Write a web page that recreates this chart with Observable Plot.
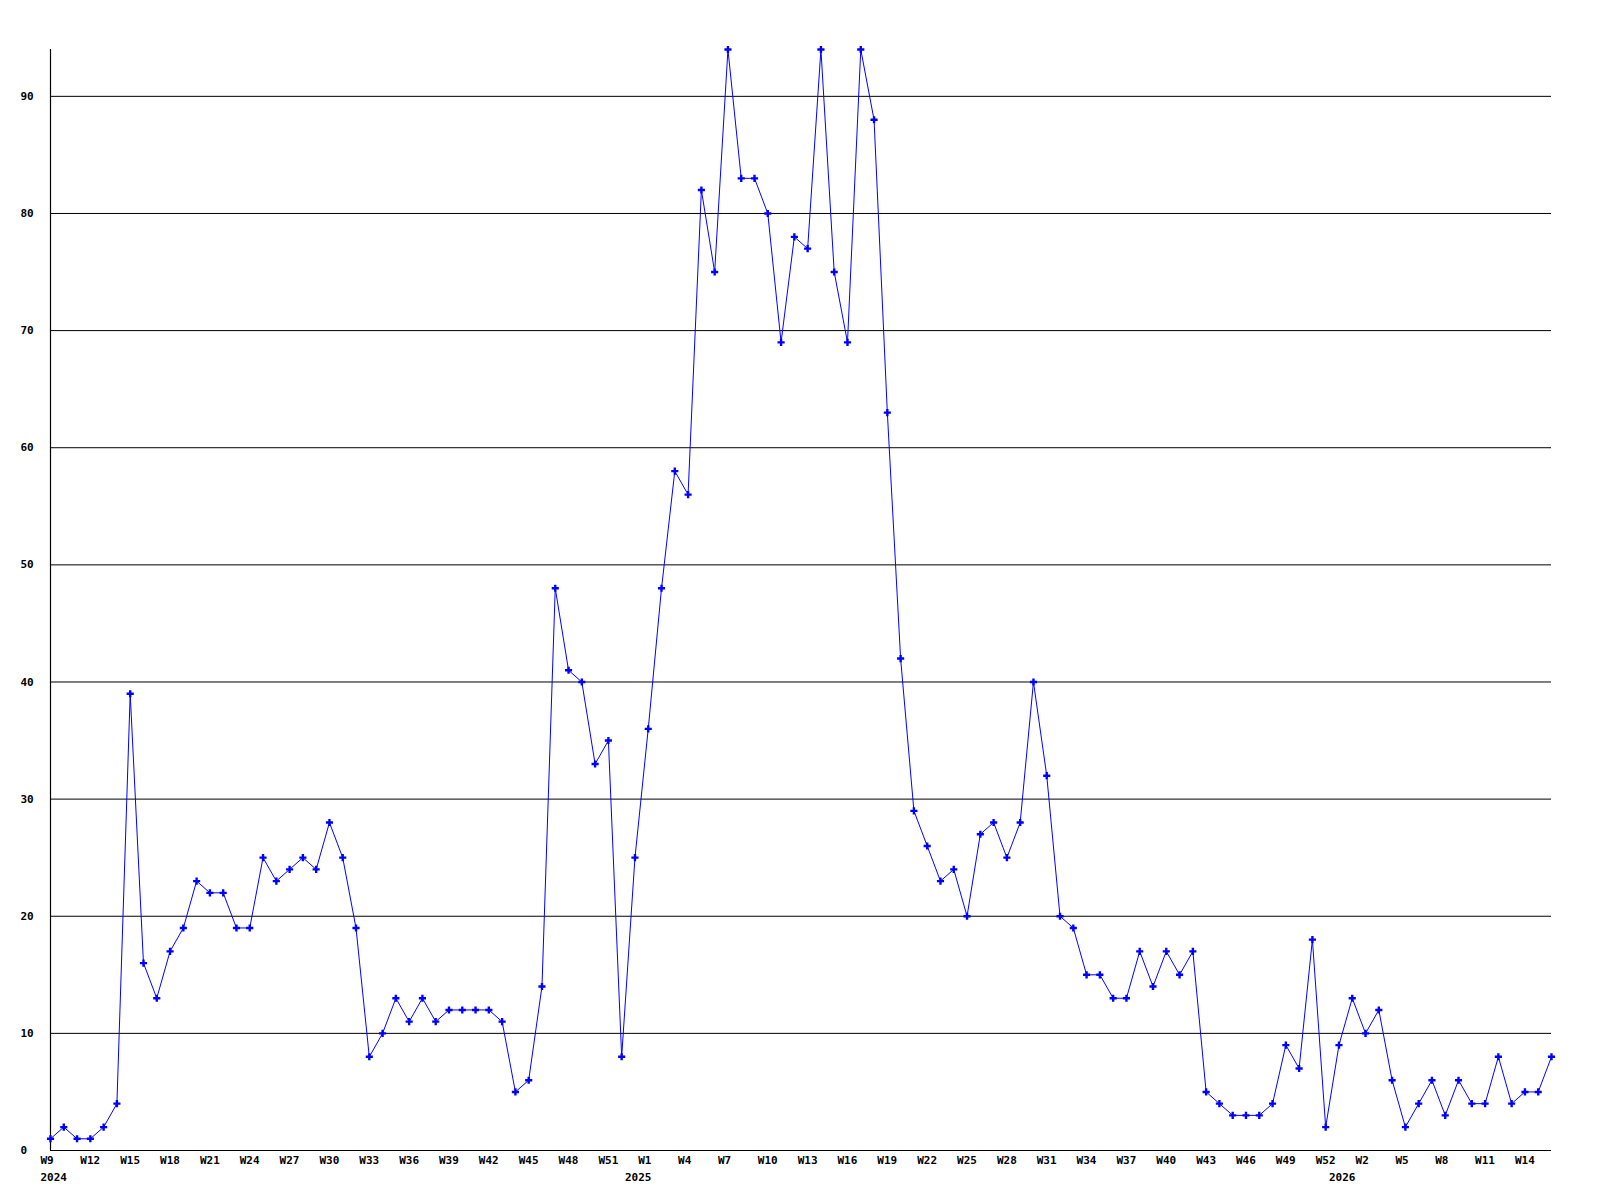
<!DOCTYPE html>
<html>
<head>
<meta charset="utf-8">
<script src="https://cdn.jsdelivr.net/npm/d3@7"></script>
<script src="https://cdn.jsdelivr.net/npm/@observablehq/plot@0.6"></script>
<style>
  html, body { margin: 0; padding: 0; background: #fff; }
  #chart svg { display: block; }
</style>
</head>
<body>
<div id="chart"></div>
<script>
// Weekly values, 2024 W9 onward (one per week)
const values = [
  1, 2, 1, 1, 2, 4, 39, 16, 13, 17, 19, 23, 22, 22, 19, 19, 25, 23, 24, 25,
  24, 28, 25, 19, 8, 10, 13, 11, 13, 11, 12, 12, 12, 12, 11, 5, 6, 14, 48, 41,
  40, 33, 35, 8, 25, 36, 48, 58, 56, 82, 75, 94, 83, 83, 80, 69, 78, 77, 94, 75,
  69, 94, 88, 63, 42, 29, 26, 23, 24, 20, 27, 28, 25, 28, 40, 32, 20, 19, 15, 15,
  13, 13, 17, 14, 17, 15, 17, 5, 4, 3, 3, 3, 4, 9, 7, 18, 2, 9, 13, 10,
  12, 6, 2, 4, 6, 3, 6, 4, 4, 8, 4, 5, 5, 8
];

// Tick labels, one every third week starting with the first week
const tickLabels = [
  "W9", "W12", "W15", "W18", "W21", "W24", "W27", "W30", "W33", "W36",
  "W39", "W42", "W45", "W48", "W51",
  "W1", "W4", "W7", "W10", "W13", "W16", "W19", "W22", "W25", "W28",
  "W31", "W34", "W37", "W40", "W43", "W46", "W49", "W52",
  "W2", "W5", "W8", "W11", "W14"
];
const tickStep = 3;

// Year labels and the week index where each year starts
const years = ["2024", "2025", "2026"];
const yearStartIndex = [0, 44, 97];

const yTicks = [0, 10, 20, 30, 40, 50, 60, 70, 80, 90];

const data = values.map((v, i) => ({i, v}));
const tickIdx = tickLabels.map((_, k) => k * tickStep);
const yearData = years.map((y, k) => ({i: yearStartIndex[k], label: y}));

const font = "'DejaVu Sans Mono', monospace";

const chart = Plot.plot({
  width: 1600,
  height: 1200,
  marginLeft: 50,
  marginRight: 49,
  marginTop: 49,
  marginBottom: 50,
  style: {fontFamily: font, fontSize: "11px", fontWeight: "bold", color: "#000", background: "#fff"},
  x: {type: "linear", domain: [0, values.length - 1]},
  y: {type: "linear", domain: [0, 94]},
  marks: [
    Plot.ruleY(yTicks.filter(d => d > 0), {stroke: "#000", strokeWidth: 1}),
    Plot.ruleY([0], {stroke: "#000", strokeWidth: 1.2}),
    Plot.ruleX([0], {stroke: "#000", strokeWidth: 1.2}),
    Plot.axisY({
      ticks: yTicks, tickSize: 0, tickPadding: 30, textAnchor: "start",
      label: null, fill: "#000"
    }),
    Plot.axisX({
      ticks: tickIdx, tickSize: 0, tickPadding: 6, textAnchor: "start", dx: -10,
      tickFormat: (d) => tickLabels[Math.round(d / tickStep)],
      label: null, fill: "#000"
    }),
    Plot.text(yearData, {
      x: "i", text: "label", frameAnchor: "bottom", dy: 27, dx: -10,
      textAnchor: "start", lineAnchor: "middle", fill: "#000",
      fontFamily: font, fontSize: 11, fontWeight: "bold"
    }),
    Plot.line(data, {x: "i", y: "v", stroke: "#0000ff", strokeWidth: 1}),
    Plot.dot(data, {x: "i", y: "v", symbol: "cross", r: 3, fill: "#0000ff", stroke: "none"})
  ]
});

document.getElementById("chart").appendChild(chart);
</script>
</body>
</html>
